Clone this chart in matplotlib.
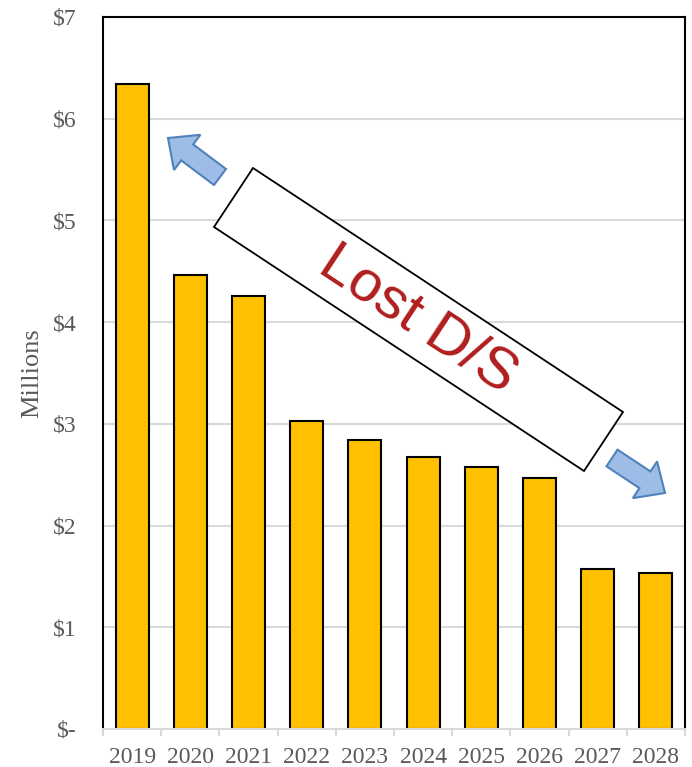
import matplotlib
matplotlib.use("Agg")
import matplotlib.pyplot as plt
from matplotlib.patches import Polygon, FancyArrow
import numpy as np

years = ["2019", "2020", "2021", "2022", "2023", "2024", "2025", "2026", "2027", "2028"]
values = [6.34, 4.46, 4.26, 3.03, 2.84, 2.67, 2.58, 2.47, 1.57, 1.53]
ytick_vals = [0, 1, 2, 3, 4, 5, 6, 7]
ytick_labels = ["$-", "$1", "$2", "$3", "$4", "$5", "$6", "$7"]

W, H = 692, 767
fig = plt.figure(figsize=(W / 100, H / 100), dpi=100)
ax = fig.add_axes([103 / W, 1 - 729 / H, 582 / W, 712 / H])

x = np.arange(len(years))
ax.bar(x, values, width=0.57, color="#FFC000", edgecolor="black", linewidth=1.5, zorder=3)
ax.set_xlim(-0.5, len(years) - 0.5)
ax.set_ylim(0, 7)
ax.set_yticks(ytick_vals)
ax.set_yticklabels(ytick_labels)
ax.set_xticks(x)
ax.set_xticklabels(years)
ax.set_xticks(np.arange(-0.5, len(years), 1), minor=True)
ax.tick_params(axis="x", which="major", length=0, pad=13)
ax.tick_params(axis="x", which="minor", length=5, color="#D9D9D9", width=1.5)
ax.tick_params(axis="y", length=0, pad=19)
ax.grid(axis="y", color="#D9D9D9", linewidth=1.5, zorder=0)
for lbl in ax.get_xticklabels() + ax.get_yticklabels():
    lbl.set_fontfamily("Liberation Serif")
    lbl.set_fontsize(17)
    lbl.set_color("#595959")
ax.set_ylabel("Millions", fontfamily="Liberation Serif", fontsize=19, color="#595959", labelpad=7)
for s in ["left", "right", "top"]:
    ax.spines[s].set_color("black")
    ax.spines[s].set_linewidth(1.5)
ax.spines["bottom"].set_color("#D9D9D9")
ax.spines["bottom"].set_linewidth(1.5)
ax.spines["bottom"].set_zorder(4)

# overlay in pixel coordinates for annotations
ov = fig.add_axes([0, 0, 1, 1], facecolor="none")
ov.set_xlim(0, W)
ov.set_ylim(H, 0)
ov.axis("off")

box = Polygon([(253, 168), (623, 412), (584, 471), (214, 227)], closed=True,
              facecolor="white", edgecolor="black", linewidth=1.3, zorder=5)
ov.add_patch(box)
ov.text(418, 320, "Lost D/S", rotation=-33.4, rotation_mode="anchor",
        ha="center", va="center", fontfamily="Liberation Sans", fontsize=42,
        color="#B01E1E", zorder=6)

def arrow(x0, y0, x1, y1):
    a = FancyArrow(x0, y0, x1 - x0, y1 - y0, width=20, head_width=44,
                   head_length=24, length_includes_head=True,
                   facecolor="#9DBCE6", edgecolor="#4F81BD", linewidth=1.5, zorder=6)
    ov.add_patch(a)

arrow(220, 177, 168, 138)
arrow(612, 458, 665, 493)

fig.savefig("out.png", dpi=100)
